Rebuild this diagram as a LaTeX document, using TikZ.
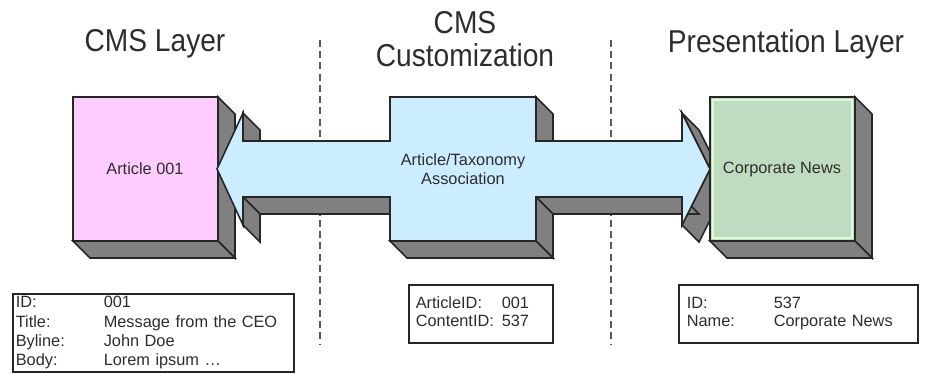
\documentclass[tikz,border=0pt]{standalone}
\usepackage{fontspec}
\setmainfont{Liberation Sans}
\usepackage{array}
\usetikzlibrary{positioning}
\definecolor{cmspink}{RGB}{255,204,255}
\definecolor{assocblue}{RGB}{204,236,255}
\definecolor{newsgreen}{RGB}{192,220,192}
\definecolor{rimgreen}{RGB}{224,250,216}
\definecolor{sidegray}{RGB}{128,128,128}
\definecolor{edgegray}{RGB}{38,38,38}
\definecolor{inkgray}{RGB}{45,45,45}
\newcommand{\narrow}[1]{\scalebox{0.89}[1]{#1}}

\begin{document}
\begin{tikzpicture}[x=0.02cm, y=-0.02cm,
  face/.style={draw=edgegray, line width=0.9pt, line join=miter},
  side/.style={face, fill=sidegray},
  divider/.style={draw=gray!70!black, line width=1.3pt, dash pattern=on 3.9pt off 2.5pt},
  title/.style={font=\fontsize{18}{18.7}\selectfont, align=center, text=inkgray},
  label/.style={font=\fontsize{9.3}{10.8}\selectfont, align=center, text=inkgray},
  infobox/.style={draw=edgegray, line width=0.9pt, anchor=north west, inner ysep=0pt,
                  align=left, text=inkgray, font=\fontsize{9.3}{10.9}\selectfont},
]
  \useasboundingbox (0,0) rectangle (950,373);

  % layer headings
  \node[title] (cmslayer)  at (155,44) {\narrow{CMS Layer}};
  \node[title] (custom)    at (465,39) {\narrow{CMS}\\\narrow{Customization}};
  \node[title] (preslayer) at (786,44) {\narrow{Presentation Layer}};

  % dividers
  \draw[divider] (320,40) -- (320,345);
  \draw[divider] (611,40) -- (611,345);

  % article block
  \draw[side] (218,97) -- (235,114) -- (235,258) -- (218,241) -- cycle;
  \draw[side] (73,241) -- (218,241) -- (235,258) -- (90,258) -- cycle;
  \draw[face, fill=cmspink] (73,97) rectangle (218,241);

  % association double arrow, sides first
  \draw[side] (243,113) -- (243,141) -- (260,158) -- (260,130) -- cycle;
  \draw[side] (536,97) -- (536,141) -- (553,158) -- (553,114) -- cycle;
  \draw[side] (682,113) -- (710,169) -- (727,186) -- (699,130) -- cycle;
  \draw[side] (710,169) -- (682,225) -- (699,242) -- (727,186) -- cycle;
  \draw[side] (682,197) -- (536,197) -- (553,214) -- (699,214) -- cycle;
  \draw[side] (536,197) -- (536,241) -- (553,258) -- (553,214) -- cycle;
  \draw[side] (536,241) -- (390,241) -- (407,258) -- (553,258) -- cycle;
  \draw[side] (390,197) -- (243,197) -- (260,214) -- (407,214) -- cycle;
  \draw[side] (243,197) -- (243,225) -- (260,242) -- (260,214) -- cycle;
  \draw[face, fill=assocblue] (217,169) -- (243,113) -- (243,141) -- (390,141)
    -- (390,97) -- (536,97) -- (536,141) -- (682,141) -- (682,113) -- (710,169)
    -- (682,225) -- (682,197) -- (536,197) -- (536,241) -- (390,241)
    -- (390,197) -- (243,197) -- (243,225) -- cycle;

  % news block
  \draw[side] (855,97) -- (872,114) -- (872,258) -- (855,241) -- cycle;
  \draw[side] (710,241) -- (855,241) -- (872,258) -- (727,258) -- cycle;
  \draw[face, fill=newsgreen] (710,97) rectangle (855,241);
  \draw[rimgreen, line width=0.7pt] (713,100) rectangle (852,238);

  \node[label] (article) at (145,169) {Article 001};
  \node[label] (assoc)   at (463,169) {Article/Taxonomy\\Association};
  \node[label] (news)    at (782,169) {Corporate News};

  % record details
  \node[infobox, inner xsep=0.06cm, text width=5.5cm, minimum height=1.56cm] (artinfo) at (12,293)
    {\begin{tabular}{@{}p{1.76cm}@{}l@{}}
      ID: & 001\\ Title: & Message from the CEO\\ Byline: & John Doe\\ Body: & Lorem ipsum \dots
    \end{tabular}};
  \node[infobox, inner xsep=0.14cm, text width=2.6cm, minimum height=1.16cm,
        font=\fontsize{9.3}{10.2}\selectfont] (associnfo) at (408,284)
    {\begin{tabular}{@{}p{1.72cm}@{}l@{}}
      ArticleID: & 001\\ ContentID: & 537
    \end{tabular}};
  \node[infobox, inner xsep=0.16cm, text width=4.46cm, minimum height=1.16cm,
        font=\fontsize{9.3}{10.2}\selectfont] (newsinfo) at (678,284)
    {\begin{tabular}{@{}p{1.74cm}@{}l@{}}
      ID: & 537\\ Name: & Corporate News
    \end{tabular}};
\end{tikzpicture}
\end{document}
